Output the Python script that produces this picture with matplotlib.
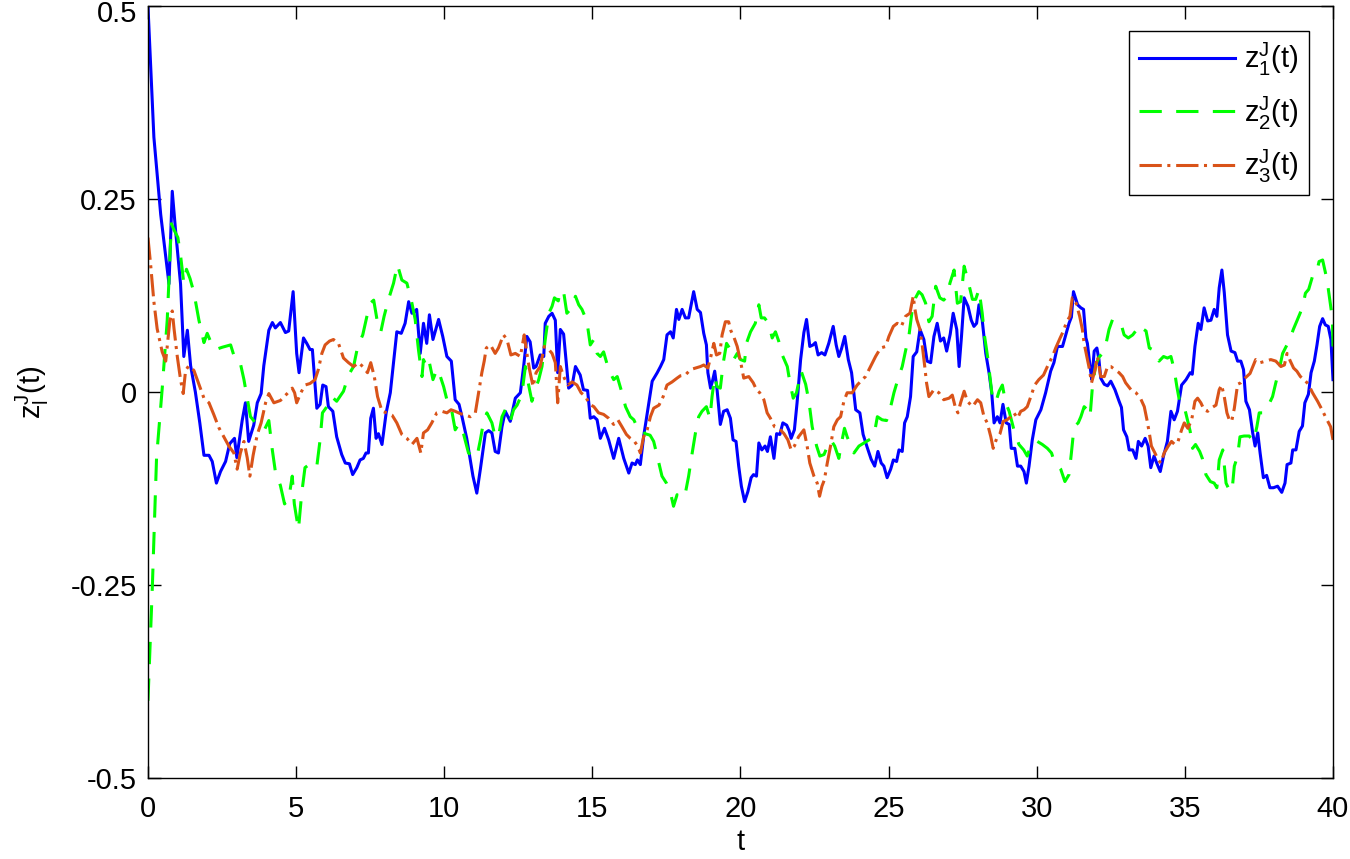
# Importing libraries
import matplotlib
matplotlib.use('Agg')
import matplotlib.pyplot as plt
from matplotlib.transforms import ScaledTranslation

# Data
t1 = [0, 0.2, 0.43, 0.71, 0.82, 0.93, 1.1, 1.21, 1.33, 1.44, 1.6, 1.75, 1.89, 2.06, 2.17, 2.31, 2.45, 2.62, 2.76, 2.92,
      3.0, 3.18, 3.29, 3.4, 3.57, 3.69, 3.82, 3.91, 4.08, 4.2, 4.3, 4.47, 4.64, 4.75, 4.9, 5.02, 5.1, 5.25, 5.36, 5.47,
      5.55, 5.7, 5.81, 5.9, 6.01, 6.09, 6.24, 6.37, 6.54, 6.66, 6.8, 6.91, 7.05, 7.16, 7.27, 7.36, 7.44, 7.52, 7.61, 7.7,
      7.78, 7.9, 8.04, 8.18, 8.29, 8.4, 8.55, 8.68, 8.8, 8.91, 8.99, 9.07, 9.19, 9.3, 9.41, 9.5, 9.62, 9.81, 9.95, 10.09,
      10.24, 10.37, 10.5, 10.6, 10.76, 10.97, 11.1, 11.22, 11.39, 11.5, 11.61, 11.72, 11.83, 11.95, 12.06, 12.23, 12.4,
      12.57, 12.68, 12.79, 12.9, 13.02, 13.1, 13.24, 13.36, 13.41, 13.53, 13.64, 13.75, 13.83, 13.92, 14.03, 14.12,
      14.2, 14.32, 14.43, 14.59, 14.7, 14.84, 14.93, 15.05, 15.16, 15.27, 15.41, 15.55, 15.72, 15.89, 16.06, 16.23,
      16.34, 16.45, 16.52, 16.62, 16.73, 16.9, 17.02, 17.19, 17.3, 17.41, 17.52, 17.64, 17.73, 17.84, 17.92, 18.03,
      18.14, 18.25, 18.42, 18.54, 18.65, 18.76, 18.85, 18.9, 18.99, 19.06, 19.13, 19.21, 19.32, 19.43, 19.55, 19.66,
      19.75, 19.85, 19.94, 20.03, 20.14, 20.25, 20.36, 20.44, 20.54, 20.62, 20.72, 20.83, 20.91, 21.01, 21.13, 21.22,
      21.33, 21.43, 21.56, 21.64, 21.71, 21.82, 21.91, 22.03, 22.14, 22.23, 22.34, 22.45, 22.53, 22.62, 22.74, 22.85,
      22.98, 23.13, 23.23, 23.32, 23.41, 23.52, 23.64, 23.75, 23.89, 24.03, 24.14, 24.28, 24.41, 24.53, 24.64, 24.75,
      24.84, 24.95, 25.07, 25.16, 25.27, 25.35, 25.46, 25.54, 25.63, 25.74, 25.83, 25.95, 26.06, 26.19, 26.3, 26.42,
      26.53, 26.64, 26.75, 26.86, 26.96, 27.08, 27.18, 27.3, 27.38, 27.46, 27.55, 27.68, 27.79, 27.88, 27.97, 28.05,
      28.16, 28.28, 28.39, 28.48, 28.56, 28.67, 28.76, 28.86, 28.97, 29.07, 29.14, 29.26, 29.35, 29.46, 29.57, 29.65,
      29.74, 29.85, 29.97, 30.14, 30.3, 30.47, 30.58, 30.7, 30.87, 30.98, 31.09, 31.17, 31.24, 31.38, 31.49, 31.58,
      31.66, 31.71, 31.8, 31.86, 31.94, 32.03, 32.1, 32.16, 32.28, 32.39, 32.5, 32.64, 32.78, 32.86, 32.93, 33.04,
      33.12, 33.24, 33.35, 33.43, 33.54, 33.66, 33.76, 33.85, 33.96, 34.05, 34.17, 34.28, 34.41, 34.53, 34.64, 34.75,
      34.89, 35.04, 35.18, 35.25, 35.34, 35.45, 35.54, 35.65, 35.77, 35.88, 35.99, 36.08, 36.16, 36.25, 36.33, 36.44,
      36.56, 36.69, 36.78, 36.89, 36.98, 37.06, 37.18, 37.29, 37.37, 37.46, 37.54, 37.65, 37.76, 37.87, 37.99, 38.13,
      38.27, 38.38, 38.45, 38.58, 38.64, 38.75, 38.86, 38.97, 39.05, 39.17, 39.26, 39.37, 39.46, 39.55, 39.65, 39.74,
      39.84, 39.93, 40.0]
z1 = [0.5, 0.33, 0.23, 0.14, 0.26, 0.21, 0.14, 0.046, 0.08, 0.034, 0.0, -0.04, -0.082, -0.082, -0.09, -0.118, -0.103,
      -0.09, -0.067, -0.06, -0.085, -0.037, -0.014, -0.064, -0.043, -0.014, -0.002, 0.034, 0.08, 0.09, 0.083, 0.09,
      0.077, 0.079, 0.13, 0.05, 0.025, 0.07, 0.063, 0.055, 0.055, -0.021, -0.016, 0.009, 0.007, -0.019, -0.025, -0.058,
      -0.081, -0.092, -0.093, -0.107, -0.098, -0.088, -0.086, -0.079, -0.079, -0.034, -0.021, -0.06, -0.054, -0.068,
      -0.027, -0.001, 0.038, 0.078, 0.076, 0.089, 0.117, 0.102, 0.104, 0.107, 0.05, 0.089, 0.063, 0.1, 0.068, 0.094,
      0.072, 0.046, 0.04, -0.01, -0.016, -0.032, -0.06, -0.109, -0.131, -0.1, -0.053, -0.05, -0.053, -0.077, -0.079,
      -0.045, -0.025, -0.038, -0.008, -0.001, 0.033, 0.072, 0.065, 0.031, 0.033, 0.048, 0.046, 0.089, 0.098, 0.102,
      0.093, 0.025, 0.081, 0.075, 0.038, 0.005, 0.009, 0.033, 0.022, 0.003, 0.002, -0.034, -0.032, -0.036, -0.06,
      -0.047, -0.062, -0.086, -0.06, -0.086, -0.105, -0.092, -0.094, -0.088, -0.094, -0.058, -0.016, 0.014, 0.025,
      0.033, 0.042, 0.074, 0.078, 0.07, 0.107, 0.094, 0.107, 0.096, 0.096, 0.13, 0.107, 0.103, 0.076, 0.061, 0.025,
      0.005, 0.015, 0.027, 0.003, -0.042, -0.025, -0.023, -0.034, -0.062, -0.064, -0.096, -0.122, -0.142, -0.129,
      -0.111, -0.107, -0.109, -0.066, -0.075, -0.07, -0.077, -0.058, -0.086, -0.054, -0.055, -0.04, -0.043, -0.05,
      -0.06, -0.049, -0.014, 0.042, 0.077, 0.094, 0.059, 0.061, 0.064, 0.048, 0.051, 0.048, 0.063, 0.085, 0.061, 0.046,
      0.056, 0.072, 0.042, 0.025, -0.023, -0.027, -0.055, -0.072, -0.087, -0.096, -0.077, -0.092, -0.096, -0.111,
      -0.1, -0.088, -0.09, -0.075, -0.077, -0.04, -0.032, -0.006, 0.046, 0.052, 0.081, 0.068, 0.04, 0.038, 0.072,
      0.089, 0.066, 0.07, 0.053, 0.075, 0.102, 0.081, 0.033, 0.072, 0.122, 0.111, 0.093, 0.085, 0.089, 0.113, 0.093,
      0.05, 0.025, -0.001, -0.04, -0.032, -0.04, -0.016, -0.04, -0.042, -0.073, -0.073, -0.096, -0.096, -0.103,
      -0.118, -0.096, -0.062, -0.036, -0.023, -0.001, 0.027, 0.038, 0.059, 0.059, 0.074, 0.089, 0.097, 0.13, 0.113,
      0.109, 0.107, 0.07, 0.063, 0.033, 0.016, 0.053, 0.057, 0.042, 0.018, 0.01, 0.008, 0.014, 0.003, -0.012, -0.02,
      -0.049, -0.058, -0.075, -0.075, -0.086, -0.064, -0.07, -0.06, -0.07, -0.098, -0.083, -0.092, -0.103, -0.083,
      -0.064, -0.025, -0.036, -0.025, 0.009, 0.016, 0.025, 0.023, 0.059, 0.089, 0.081, 0.109, 0.092, 0.093, 0.107,
      0.098, 0.135, 0.158, 0.129, 0.074, 0.053, 0.051, 0.04, 0.04, 0.029, -0.012, -0.023, -0.053, -0.07, -0.053,
      -0.079, -0.111, -0.108, -0.124, -0.124, -0.122, -0.13, -0.118, -0.094, -0.092, -0.075, -0.075, -0.051, -0.044,
      -0.014, -0.003, 0.025, 0.04, 0.061, 0.085, 0.095, 0.087, 0.085, 0.068, 0.016]

t2 = [0, 0.15, 0.29, 0.48, 0.65, 0.79, 0.88, 1.01, 1.1, 1.21, 1.3, 1.42, 1.55, 1.72, 1.89, 2.0, 2.13, 2.28, 2.51, 2.79,
      2.96, 3.12, 3.24, 3.35, 3.46, 3.63, 3.8, 3.93, 4.08, 4.19, 4.3, 4.47, 4.61, 4.75, 4.87, 4.94, 5.08, 5.19, 5.3,
      5.47, 5.61, 5.7, 5.81, 5.89, 6.04, 6.2, 6.37, 6.6, 6.77, 6.94, 7.08, 7.25, 7.39, 7.5, 7.62, 7.73, 7.86, 7.97,
      8.12, 8.29, 8.42, 8.57, 8.74, 8.91, 9.02, 9.13, 9.25, 9.3, 9.44, 9.5, 9.62, 9.76, 9.87, 9.98, 10.09, 10.23,
      10.37, 10.5, 10.65, 10.82, 10.97, 11.1, 11.22, 11.33, 11.44, 11.61, 11.72, 11.83, 11.95, 12.06, 12.23, 12.34,
      12.46, 12.62, 12.74, 12.85, 12.96, 13.07, 13.19, 13.3, 13.41, 13.53, 13.64, 13.72, 13.85, 13.92, 14.03, 14.14,
      14.26, 14.43, 14.54, 14.65, 14.77, 14.84, 14.93, 15.05, 15.16, 15.27, 15.38, 15.55, 15.72, 15.84, 16.0, 16.12,
      16.28, 16.4, 16.53, 16.67, 16.78, 16.95, 17.07, 17.19, 17.35, 17.5, 17.64, 17.74, 17.86, 17.98, 18.14, 18.25,
      18.37, 18.48, 18.59, 18.7, 18.85, 18.97, 19.04, 19.13, 19.21, 19.32, 19.42, 19.53, 19.66, 19.77, 19.89, 20.0,
      20.14, 20.2, 20.34, 20.5, 20.62, 20.7, 20.81, 20.95, 21.07, 21.18, 21.29, 21.41, 21.58, 21.67, 21.78, 21.89,
      22.05, 22.2, 22.31, 22.42, 22.57, 22.68, 22.82, 22.94, 23.05, 23.18, 23.32, 23.41, 23.51, 23.6, 23.71, 23.83,
      24.0, 24.17, 24.34, 24.5, 24.62, 24.78, 24.93, 25.07, 25.18, 25.31, 25.46, 25.57, 25.69, 25.8, 25.91, 26.02,
      26.13, 26.25, 26.36, 26.47, 26.59, 26.73, 26.86, 26.97, 27.07, 27.21, 27.32, 27.43, 27.55, 27.68, 27.83, 27.94,
      28.05, 28.16, 28.24, 28.34, 28.42, 28.5, 28.61, 28.73, 28.84, 28.95, 29.07, 29.23, 29.4, 29.56, 29.68, 29.82,
      30.02, 30.19, 30.36, 30.5, 30.59, 30.72, 30.81, 30.95, 31.09, 31.17, 31.26, 31.4, 31.49, 31.6, 31.71, 31.8,
      31.88, 31.99, 32.1, 32.22, 32.33, 32.44, 32.56, 32.7, 32.84, 32.95, 33.09, 33.24, 33.38, 33.46, 33.57, 33.69,
      33.8, 33.91, 34.02, 34.13, 34.28, 34.41, 34.53, 34.64, 34.73, 34.81, 34.93, 35.03, 35.18, 35.26, 35.36, 35.5,
      35.59, 35.71, 35.86, 35.99, 36.08, 36.16, 36.28, 36.39, 36.5, 36.59, 36.67, 36.78, 36.86, 37.0, 37.17, 37.32,
      37.43, 37.51, 37.63, 37.71, 37.86, 37.96, 38.07, 38.19, 38.3, 38.42, 38.54, 38.66, 38.77, 38.89, 38.99, 39.07,
      39.18, 39.31, 39.43, 39.53, 39.65, 39.8, 39.91, 39.98, 40.0]
z2 = [-0.4, -0.25, -0.085, 0.004, 0.093, 0.218, 0.21, 0.2, 0.177, 0.141, 0.159, 0.147, 0.129, 0.093, 0.064, 0.076,
      0.064, 0.055, 0.058, 0.061, 0.04, 0.037, 0.016, -0.008, -0.032, -0.04, -0.043, -0.049, -0.037, -0.073, -0.103,
      -0.121, -0.145, -0.139, -0.109, -0.145, -0.178, -0.131, -0.098, -0.093, -0.091, -0.096, -0.062, -0.027, -0.019,
      -0.006, -0.012, 0.001, 0.022, 0.033, 0.059, 0.074, 0.098, 0.115, 0.119, 0.094, 0.078, 0.098, 0.12, 0.141, 0.165,
      0.145, 0.141, 0.115, 0.094, 0.055, 0.02, 0.042, 0.03, 0.038, 0.016, 0.03, 0.02, 0.007, -0.01, -0.019, -0.049,
      -0.041, -0.054, -0.079, -0.083, -0.085, -0.062, -0.038, -0.027, -0.04, -0.058, -0.058, -0.032, -0.023, -0.038,
      -0.023, -0.017, -0.003, 0.033, 0.009, -0.012, 0.003, 0.016, 0.033, 0.068, 0.102, 0.111, 0.122, 0.118, 0.132,
      0.13, 0.102, 0.107, 0.124, 0.113, 0.107, 0.096, 0.085, 0.061, 0.068, 0.05, 0.046, 0.052, 0.029, 0.016, 0.02,
      -0.001, -0.019, -0.032, -0.036, -0.047, -0.047, -0.054, -0.056, -0.064, -0.083, -0.109, -0.118, -0.131, -0.148,
      -0.133, -0.138, -0.131, -0.109, -0.079, -0.053, -0.032, -0.025, -0.019, -0.034, -0.006, 0.02, 0.007, 0.005,
      0.038, 0.063, 0.055, 0.042, 0.05, 0.042, 0.04, 0.063, 0.078, 0.089, 0.113, 0.096, 0.096, 0.089, 0.07, 0.078,
      0.066, 0.048, 0.033, 0.012, -0.008, -0.001, 0.027, 0.01, -0.012, -0.045, -0.07, -0.083, -0.081, -0.07, -0.062,
      -0.07, -0.086, -0.066, -0.047, -0.058, -0.068, -0.079, -0.07, -0.066, -0.062, -0.058, -0.032, -0.036, -0.037,
      -0.019, -0.001, 0.016, 0.033, 0.053, 0.074, 0.107, 0.122, 0.13, 0.126, 0.115, 0.091, 0.098, 0.137, 0.122, 0.119,
      0.124, 0.141, 0.158, 0.115, 0.117, 0.163, 0.144, 0.12, 0.12, 0.133, 0.102, 0.072, 0.046, 0.02, -0.006, -0.014,
      0.001, 0.009, -0.014, -0.025, -0.049, -0.068, -0.075, -0.083, -0.066, -0.064, -0.068, -0.073, -0.079, -0.09,
      -0.096, -0.1, -0.116, -0.107, -0.079, -0.045, -0.04, -0.032, -0.019, -0.023, -0.032, 0.007, 0.035, 0.045, 0.05,
      0.061, 0.081, 0.094, 0.092, 0.089, 0.074, 0.07, 0.074, 0.081, 0.087, 0.082, 0.079, 0.057, 0.055, 0.052, 0.04,
      0.046, 0.044, 0.046, 0.029, 0.007, -0.01, -0.012, -0.027, -0.051, -0.073, -0.068, -0.077, -0.086, -0.107,
      -0.116, -0.118, -0.124, -0.088, -0.075, -0.118, -0.127, -0.129, -0.096, -0.083, -0.058, -0.057, -0.057, -0.064,
      -0.045, -0.027, -0.027, -0.019, -0.014, -0.006, 0.012, 0.03, 0.05, 0.059, 0.068, 0.081, 0.091, 0.102, 0.113,
      0.128, 0.133, 0.15, 0.152, 0.169, 0.171, 0.145, 0.115, 0.095, 0.059]

t3 = [0, 0.09, 0.2, 0.31, 0.48, 0.6, 0.74, 0.82, 0.88, 0.99, 1.1, 1.19, 1.27, 1.38, 1.55, 1.72, 1.89, 2.06, 2.22, 2.39,
      2.56, 2.73, 2.9, 3.01, 3.12, 3.24, 3.35, 3.44, 3.55, 3.69, 3.82, 3.97, 4.08, 4.25, 4.47, 4.7, 4.87, 4.95, 5.02,
      5.16, 5.3, 5.47, 5.64, 5.75, 5.87, 5.98, 6.13, 6.26, 6.43, 6.6, 6.77, 6.94, 7.11, 7.25, 7.41, 7.52, 7.64, 7.75,
      7.9, 8.07, 8.24, 8.4, 8.57, 8.74, 8.91, 9.08, 9.21, 9.3, 9.44, 9.58, 9.75, 9.92, 10.09, 10.23, 10.37, 10.54,
      10.71, 10.88, 11.05, 11.16, 11.27, 11.35, 11.42, 11.56, 11.72, 11.83, 12.0, 12.12, 12.25, 12.4, 12.57, 12.7,
      12.79, 12.88, 13.0, 13.1, 13.24, 13.38, 13.53, 13.64, 13.75, 13.8, 13.83, 13.92, 14.03, 14.17, 14.32, 14.48,
      14.62, 14.77, 14.91, 15.05, 15.21, 15.38, 15.55, 15.72, 15.86, 16.0, 16.15, 16.28, 16.42, 16.53, 16.62, 16.73,
      16.85, 16.96, 17.07, 17.25, 17.39, 17.52, 17.69, 17.86, 17.97, 18.14, 18.31, 18.48, 18.65, 18.76, 18.9, 19.0,
      19.1, 19.19, 19.3, 19.38, 19.49, 19.6, 19.68, 19.77, 19.89, 20.0, 20.11, 20.28, 20.43, 20.54, 20.65, 20.79,
      20.9, 21.01, 21.15, 21.3, 21.47, 21.6, 21.71, 21.82, 21.96, 22.14, 22.25, 22.34, 22.48, 22.59, 22.67, 22.75,
      22.83, 22.93, 23.04, 23.15, 23.27, 23.38, 23.49, 23.6, 23.77, 23.94, 24.11, 24.22, 24.39, 24.56, 24.73, 24.9,
      25.01, 25.16, 25.29, 25.43, 25.57, 25.72, 25.83, 25.89, 25.95, 26.06, 26.14, 26.22, 26.28, 26.36, 26.53, 26.7,
      26.86, 27.04, 27.15, 27.26, 27.34, 27.43, 27.55, 27.66, 27.83, 28.0, 28.11, 28.22, 28.33, 28.45, 28.53, 28.65,
      28.76, 28.87, 29.0, 29.12, 29.23, 29.35, 29.46, 29.57, 29.68, 29.8, 29.93, 30.07, 30.23, 30.36, 30.53, 30.64,
      30.79, 30.9, 31.01, 31.12, 31.2, 31.33, 31.45, 31.54, 31.6, 31.69, 31.76, 31.85, 31.97, 32.05, 32.16, 32.28,
      32.39, 32.5, 32.64, 32.78, 32.9, 33.0, 33.18, 33.35, 33.5, 33.63, 33.72, 33.8, 33.87, 33.99, 34.1, 34.19, 34.3,
      34.44, 34.55, 34.66, 34.77, 34.89, 34.98, 35.1, 35.23, 35.34, 35.43, 35.54, 35.65, 35.77, 35.88, 36.05, 36.16,
      36.24, 36.33, 36.42, 36.5, 36.58, 36.67, 36.78, 36.89, 37.03, 37.2, 37.39, 37.54, 37.73, 37.9, 38.07, 38.24,
      38.36, 38.45, 38.56, 38.67, 38.78, 38.9, 39.03, 39.17, 39.31, 39.48, 39.63, 39.77, 39.92, 40.0]
z3 = [0.2, 0.165, 0.117, 0.082, 0.052, 0.04, 0.093, 0.105, 0.082, 0.046, 0.016, -0.002, 0.028, 0.034, 0.028, 0.01,
      -0.008, -0.014, -0.029, -0.046, -0.058, -0.07, -0.079, -0.1, -0.079, -0.064, -0.085, -0.109, -0.082, -0.055,
      -0.04, -0.014, -0.002, -0.014, -0.011, -0.002, 0.005, -0.001, -0.014, -0.001, 0.009, 0.011, 0.016, 0.029, 0.05,
      0.061, 0.066, 0.068, 0.063, 0.044, 0.038, 0.033, 0.038, 0.033, 0.025, 0.038, 0.02, -0.006, -0.025, -0.027,
      -0.03, -0.04, -0.055, -0.06, -0.068, -0.06, -0.079, -0.053, -0.049, -0.04, -0.027, -0.025, -0.027, -0.023,
      -0.025, -0.028, -0.03, -0.032, -0.027, -0.001, 0.025, 0.04, 0.057, 0.061, 0.05, 0.057, 0.074, 0.068, 0.048,
      0.05, 0.046, 0.074, 0.05, 0.029, 0.007, 0.025, 0.033, 0.059, 0.055, 0.05, 0.038, 0.007, -0.014, 0.033, 0.02,
      0.009, 0.013, 0.009, -0.001, -0.006, -0.016, -0.019, -0.027, -0.029, -0.034, -0.042, -0.036, -0.045, -0.055,
      -0.06, -0.064, -0.07, -0.079, -0.058, -0.049, -0.032, -0.021, -0.017, -0.006, 0.009, 0.013, 0.018, 0.021, 0.022,
      0.029, 0.031, 0.033, 0.035, 0.031, 0.046, 0.063, 0.048, 0.05, 0.074, 0.091, 0.091, 0.079, 0.072, 0.059, 0.04,
      0.018, 0.02, 0.012, 0.003, -0.001, -0.01, -0.027, -0.034, -0.045, -0.047, -0.054, -0.062, -0.075, -0.07,
      -0.058, -0.049, -0.07, -0.092, -0.109, -0.118, -0.135, -0.122, -0.114, -0.092, -0.07, -0.045, -0.036, -0.032,
      -0.012, -0.001, -0.001, 0.009, 0.016, 0.02, 0.033, 0.046, 0.057, 0.059, 0.072, 0.085, 0.089, 0.085, 0.098,
      0.102, 0.124, 0.107, 0.094, 0.081, 0.059, 0.033, 0.012, -0.006, 0.003, -0.001, -0.01, -0.008, -0.004, -0.021,
      -0.027, -0.014, 0.001, -0.012, -0.019, -0.01, -0.014, -0.032, -0.04, -0.058, -0.073, -0.06, -0.054, -0.038,
      -0.036, -0.032, -0.027, -0.034, -0.025, -0.023, -0.019, -0.006, 0.009, 0.016, 0.022, 0.033, 0.046, 0.057, 0.07,
      0.079, 0.091, 0.098, 0.122, 0.115, 0.098, 0.081, 0.063, 0.046, 0.033, 0.012, 0.029, 0.046, 0.02, 0.02, 0.033,
      0.033, 0.029, 0.025, 0.02, 0.012, 0.003, -0.001, -0.008, -0.019, -0.036, -0.053, -0.07, -0.079, -0.088,
      -0.092, -0.079, -0.07, -0.064, -0.068, -0.064, -0.049, -0.04, -0.047, -0.036, -0.012, -0.008, -0.014, -0.023,
      -0.025, -0.021, -0.017, 0.003, 0.009, -0.006, -0.027, -0.036, -0.038, -0.021, 0.01, 0.012, 0.018, 0.024, 0.042,
      0.038, 0.04, 0.042, 0.04, 0.033, 0.035, 0.05, 0.04, 0.031, 0.027, 0.02, 0.016, 0.01, -0.001, -0.012, -0.023,
      -0.034, -0.045, -0.062]

labels = [r'$\mathregular{z_1^J(t)}$', r'$\mathregular{z_2^J(t)}$', r'$\mathregular{z_3^J(t)}$']
xticks = [0, 5, 10, 15, 20, 25, 30, 35, 40]
yticks = [-0.5, -0.25, 0, 0.25, 0.5]
ytick_labels = ['-0.5', '-0.25', '0', '0.25', '0.5']

# Chart settings
plt.rcParams['font.family'] = ['Liberation Sans', 'DejaVu Sans']
plt.rcParams['mathtext.fontset'] = 'custom'
plt.rcParams['mathtext.rm'] = 'Liberation Sans'
fs = 21

fig = plt.figure(figsize=(13.5, 8.59), dpi=100)
ax = fig.add_axes([0.1096, 0.0943, 0.8778, 0.8987])

lw = 2.2
ax.plot(t1, z1, color='#0000FF', lw=lw, label=labels[0])
ax.plot(t2, z2, color='#00FF00', lw=lw, dashes=(7.3, 4.7), label=labels[1])
ax.plot(t3, z3, color='#D95319', lw=lw, dashes=(7.3, 1.8, 1.0, 1.9), label=labels[2])

ax.set_xlim(0, 40)
ax.set_ylim(-0.5, 0.5)
ax.set_xticks(xticks)
ax.set_yticks(yticks)
ax.set_yticklabels(ytick_labels)
ax.tick_params(direction='in', length=9, width=1, top=True, right=True, labelsize=fs)
ax.tick_params(axis='x', pad=12)
ax.tick_params(axis='y', pad=8)
for s in ax.spines.values():
    s.set_linewidth(1.0)

# the top y label sits a little lower so it is not cut off
top_lab = ax.get_yticklabels()[-1]
top_lab.set_transform(top_lab.get_transform() + ScaledTranslation(0, -5 / 100, fig.dpi_scale_trans))

ax.set_xlabel('t', fontsize=fs, labelpad=4)
ax.set_ylabel(r'$\mathregular{z_l^J(t)}$', fontsize=fs, labelpad=14)

leg = ax.legend(loc='upper right', bbox_to_anchor=(0.9797, 0.9676), borderaxespad=0, fontsize=fs,
                fancybox=False, edgecolor='black', framealpha=1, handlelength=3.3, handletextpad=0.3,
                borderpad=0.35, labelspacing=0.55)
leg.get_frame().set_linewidth(1.0)

plt.savefig('out.png', dpi=100)
